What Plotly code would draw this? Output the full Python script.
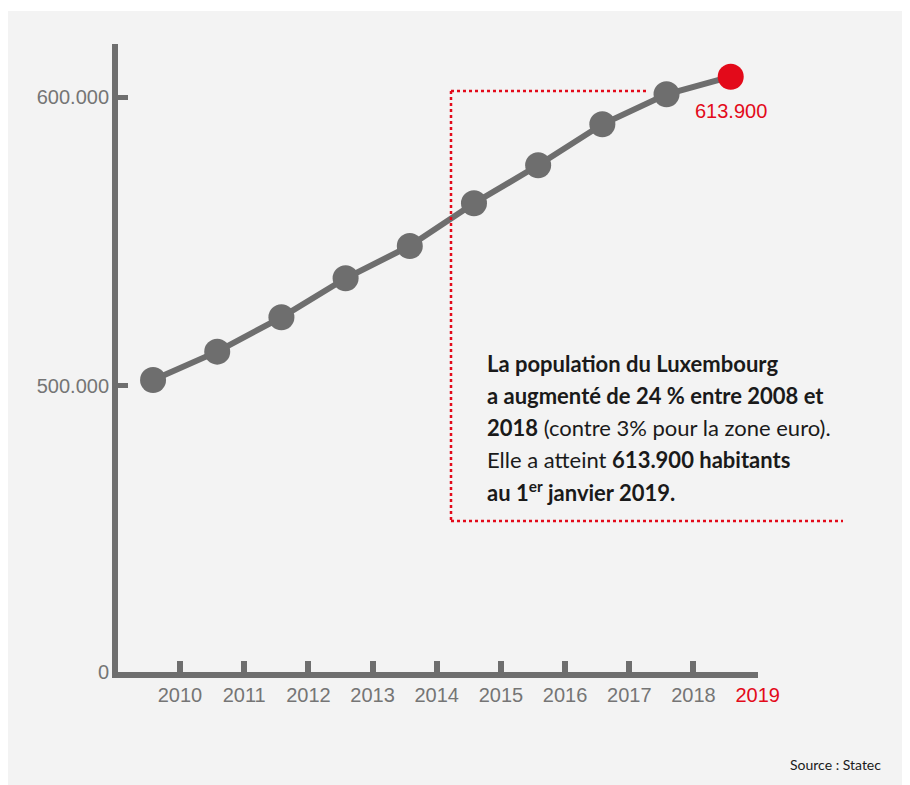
import plotly.graph_objects as go

# ---- data ----
years = [2010, 2011, 2012, 2013, 2014, 2015, 2016, 2017, 2018, 2019]
population = [501970, 511780, 523690, 537200, 548390, 563180, 576340, 590540, 600930, 607030]
year_labels = ["2010", "2011", "2012", "2013", "2014", "2015", "2016", "2017", "2018", "2019"]
y_tick_values = [400800, 500000, 600000]
y_tick_labels = ["0", "500.000", "600.000"]
highlight_label = "613.900"

GREY = "#6e6e6e"
RED = "#e30a1a"
LABEL_GREY = "#757575"
TEXT = "#1a1a1a"

# points sit a little to the left of their year tick
POINT_OFFSET = 0.42
x_points = [y - POINT_OFFSET for y in years]

marker_colors = [GREY] * (len(years) - 1) + [RED]

tick_text = [f'<span style="color:{RED}">{t}</span>' if i == len(year_labels) - 1 else t
             for i, t in enumerate(year_labels)]

fig = go.Figure()
fig.add_trace(go.Scatter(
    x=x_points, y=population, mode="lines+markers",
    line=dict(color=GREY, width=6),
    marker=dict(size=26, color=marker_colors, line=dict(width=0)),
    hoverinfo="skip", cliponaxis=False,
))

# page offset of the figure (browser body margin)
OFF = 8
W, H = 902, 777
L, T = 110, 36
pw, ph = 640, 628
R, B = W - L - pw, H - T - ph

def px(xp):
    return (xp - OFF - L) / pw

def py(yp):
    return (H - B - (yp - OFF)) / ph

DOT = dict(color=RED, width=2.5, dash="dot")
shapes = [
    # grey panel
    dict(type="rect", xref="paper", yref="paper", x0=px(8), x1=px(920), y0=py(11), y1=py(800),
         fillcolor="#f3f3f3", line=dict(width=0), layer="below"),
    # dotted red frame
    dict(type="line", xref="paper", yref="paper", x0=px(451), x1=px(648), y0=py(91), y1=py(91), line=DOT),
    dict(type="line", xref="paper", yref="paper", x0=px(451), x1=px(451), y0=py(91), y1=py(521), line=DOT),
    dict(type="line", xref="paper", yref="paper", x0=px(451), x1=px(843), y0=py(521), y1=py(521), line=DOT),
]

text_lines = [
    "<b>La population du Luxembourg</b>",
    "<b>a augmenté de 24 % entre 2008 et</b>",
    "<b>2018</b> (contre 3% pour la zone euro).",
    "Elle a atteint <b>613.900 habitants</b>",
    "<b>au 1<sup>er</sup> janvier 2019.</b>",
]
baselines = [370, 402, 434, 466, 498]

annotations = []
for t, bl in zip(text_lines, baselines):
    annotations.append(dict(
        text=t, xref="paper", yref="paper", x=px(485), y=py(bl - 7),
        xanchor="left", yanchor="middle", showarrow=False,
        font=dict(family="Lato, 'Open Sans', sans-serif", size=22, color=TEXT),
    ))

annotations.append(dict(
    text=highlight_label, x=x_points[-1], y=population[-1], xref="x", yref="y",
    yshift=-34, showarrow=False, xanchor="center", yanchor="middle",
    font=dict(family="Liberation Sans, Arial, sans-serif", size=20, color=RED),
))
annotations.append(dict(
    text="Source : Statec", xref="paper", yref="paper", x=px(883), y=py(764),
    xanchor="right", yanchor="middle", showarrow=False,
    font=dict(family="Lato, sans-serif", size=14, color=TEXT),
))

fig.update_layout(
    width=W, height=H,
    margin=dict(l=L, r=R, t=T, b=B, pad=0),
    paper_bgcolor="white", plot_bgcolor="rgba(0,0,0,0)",
    showlegend=False,
    shapes=shapes, annotations=annotations,
    font=dict(family="Liberation Sans, Arial, sans-serif", size=20, color=LABEL_GREY),
)
fig.update_xaxes(
    range=[2009.034, 2019.005], showgrid=False, zeroline=False,
    showline=True, linecolor=GREY, linewidth=6,
    tickmode="array", tickvals=years, ticktext=tick_text,
    ticks="inside", ticklen=11, tickwidth=6, tickcolor=GREY,
    tickfont=dict(size=20, color=LABEL_GREY), ticklabelstandoff=0,
)
fig.update_yaxes(
    range=[400800, 618360], showgrid=False, zeroline=False,
    showline=True, linecolor=GREY, linewidth=6,
    tickmode="array", tickvals=y_tick_values, ticktext=y_tick_labels,
    ticks="inside", ticklen=10, tickwidth=5, tickcolor=GREY,
    tickfont=dict(size=20, color=LABEL_GREY), ticklabelstandoff=-1,
)

fig.write_html("out.html", config={"displayModeBar": False},
               post_script="document.documentElement.style.overflow='hidden';document.body.style.overflow='hidden';")
